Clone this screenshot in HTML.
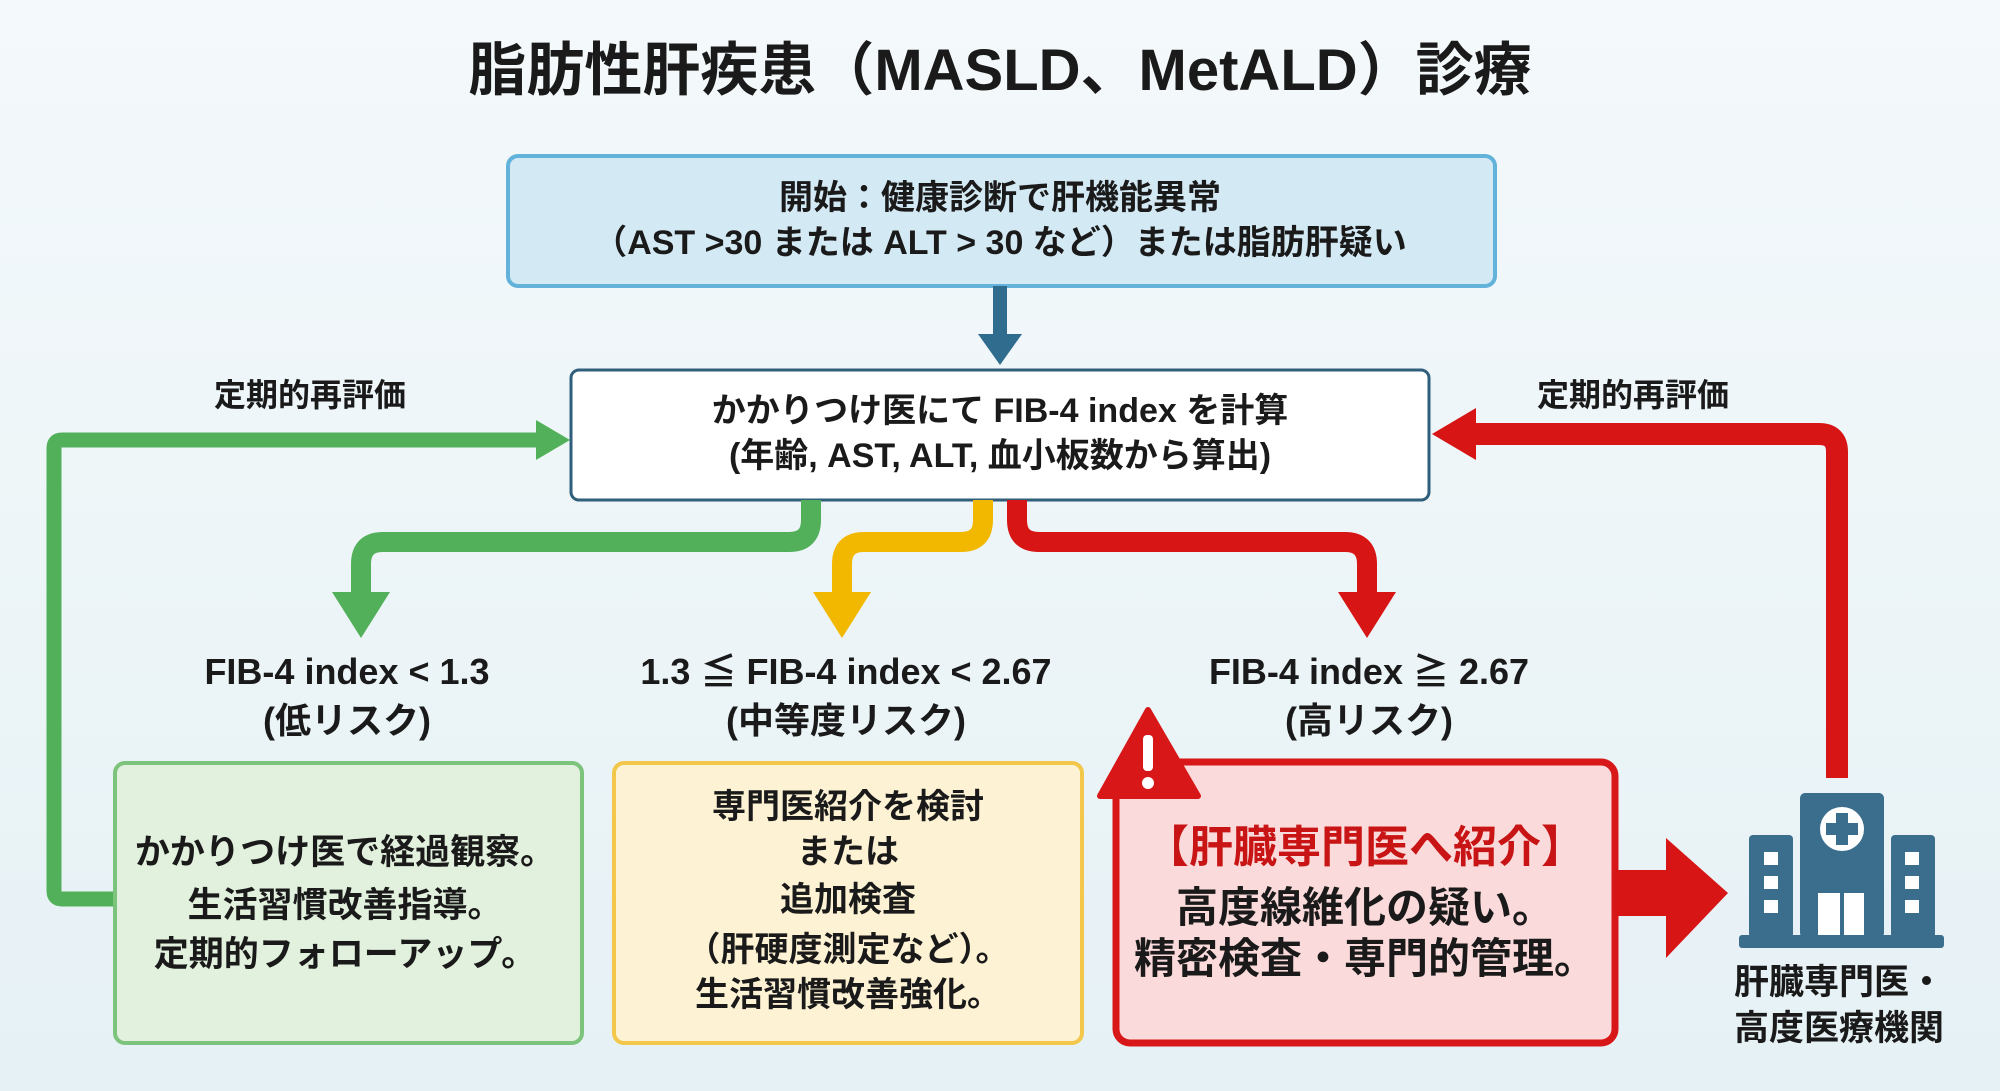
<!DOCTYPE html>
<html><head><meta charset="utf-8"><style>
html,body{margin:0;padding:0;width:2000px;height:1091px;overflow:hidden;background:#eef5f8}
svg text{font-family:"Liberation Sans","Noto Sans CJK JP",sans-serif;font-weight:bold;fill:#1a1a1a;text-anchor:middle}
</style></head><body>
<svg width="2000" height="1091" viewBox="0 0 2000 1091" xmlns="http://www.w3.org/2000/svg">
<defs><linearGradient id="bg" x1="0" y1="0" x2="0" y2="1"><stop offset="0" stop-color="#f4f9fb"/><stop offset="1" stop-color="#e6f1f5"/></linearGradient></defs>
<rect width="2000" height="1091" fill="url(#bg)"/>
<text x="1000" y="90" font-size="58">脂肪性肝疾患（MASLD、MetALD）診療</text>

<rect x="508" y="156" width="987" height="130" rx="10" fill="#d3e9f4" stroke="#62b2da" stroke-width="4"/>
<text x="1000" y="209" font-size="34">開始：健康診断で肝機能異常</text>
<text x="1000" y="254" font-size="34">（AST &gt;30 または ALT &gt; 30 など）または脂肪肝疑い</text>
<rect x="993" y="286" width="14" height="50" fill="#2f6c8e"/>
<polygon points="978,334 1022,334 1000,365" fill="#2f6c8e"/>

<rect x="571" y="370" width="858" height="130" rx="8" fill="#ffffff" stroke="#2f5f7a" stroke-width="3"/>
<text x="1000" y="422" font-size="34">かかりつけ医にて FIB-4 index を計算</text>
<text x="1000" y="467" font-size="34">(年齢, AST, ALT, 血小板数から算出)</text>

<text x="310" y="406" font-size="32">定期的再評価</text>
<text x="1633" y="406" font-size="32">定期的再評価</text>

<path d="M115,899 H62 Q54,899 54,891 V448 Q54,440 62,440 H540" fill="none" stroke="#52b05a" stroke-width="15"/>
<polygon points="536,420 570,440 536,460" fill="#52b05a"/>
<path d="M1837,778 V452 Q1837,434 1819,434 H1470" fill="none" stroke="#d81515" stroke-width="22"/>
<polygon points="1476,408 1432,434 1476,460" fill="#d81515"/>

<path d="M811,500 V520 Q811,542 789,542 H383 Q361,542 361,564 V595" fill="none" stroke="#52b05a" stroke-width="20"/>
<polygon points="332,592 390,592 361,638" fill="#52b05a"/>
<path d="M983,500 V520 Q983,542 961,542 H864 Q842,542 842,564 V595" fill="none" stroke="#f2b800" stroke-width="20"/>
<polygon points="813,592 871,592 842,638" fill="#f2b800"/>
<path d="M1017,500 V520 Q1017,542 1039,542 H1345 Q1367,542 1367,564 V595" fill="none" stroke="#d81515" stroke-width="20"/>
<polygon points="1338,592 1396,592 1367,638" fill="#d81515"/>

<text x="347" y="684" font-size="36">FIB-4 index &lt; 1.3</text>
<text x="347" y="733" font-size="36">(低リスク)</text>
<text x="846" y="684" font-size="36">1.3 ≦ FIB-4 index &lt; 2.67</text>
<text x="846" y="733" font-size="36">(中等度リスク)</text>
<text x="1369" y="684" font-size="36">FIB-4 index ≧ 2.67</text>
<text x="1369" y="733" font-size="36">(高リスク)</text>

<rect x="115" y="763" width="467" height="280" rx="10" fill="#e2f1dd" stroke="#7cc47c" stroke-width="4"/>
<text x="345" y="864" font-size="35">かかりつけ医で経過観察。</text>
<text x="345" y="917" font-size="35">生活習慣改善指導。</text>
<text x="345" y="966" font-size="35">定期的フォローアップ。</text>

<rect x="614" y="763" width="468" height="280" rx="10" fill="#fdf2d4" stroke="#f3c84a" stroke-width="4"/>
<text x="848" y="818" font-size="34">専門医紹介を検討</text>
<text x="848" y="863" font-size="34">または</text>
<text x="848" y="911" font-size="34">追加検査</text>
<text x="848" y="961" font-size="34">（肝硬度測定など）。</text>
<text x="848" y="1006" font-size="34">生活習慣改善強化。</text>

<rect x="1116" y="762" width="499" height="281" rx="14" fill="#fadada" stroke="#d81818" stroke-width="7"/>
<polygon points="1148,710 1100,796 1198,796" fill="#d81818" stroke="#d81818" stroke-width="6" stroke-linejoin="round"/>
<rect x="1143" y="735" width="10" height="36" rx="4" fill="#fff"/>
<circle cx="1148" cy="783" r="6" fill="#fff"/>
<text x="1365" y="862" font-size="44" style="fill:#c81414">【肝臓専門医へ紹介】</text>
<text x="1365" y="922" font-size="42">高度線維化の疑い。</text>
<text x="1365" y="973" font-size="42">精密検査・専門的管理。</text>

<rect x="1615" y="870" width="55" height="46" fill="#d81515"/>
<polygon points="1666,838 1728,893 1666,958" fill="#d81515"/>

<g fill="#3a6e8c">
<rect x="1800" y="793" width="84" height="145" rx="5"/>
<rect x="1749" y="835" width="44" height="103" rx="4"/>
<rect x="1891" y="835" width="44" height="103" rx="4"/>
<rect x="1739" y="935" width="205" height="13" rx="3"/>
</g>
<circle cx="1842" cy="829" r="22" fill="#fff"/>
<rect x="1836" y="813" width="12" height="32" fill="#3a6e8c"/>
<rect x="1826" y="823" width="32" height="12" fill="#3a6e8c"/>
<g fill="#fff">
<rect x="1818" y="893" width="22" height="42"/><rect x="1844" y="893" width="20" height="42"/>
<rect x="1764" y="852" width="14" height="13"/><rect x="1764" y="876" width="14" height="13"/><rect x="1764" y="900" width="14" height="13"/>
<rect x="1905" y="852" width="14" height="13"/><rect x="1905" y="876" width="14" height="13"/><rect x="1905" y="900" width="14" height="13"/>
</g>
<text x="1839" y="994" font-size="35">肝臓専門医・</text>
<text x="1839" y="1040" font-size="35">高度医療機関</text>
</svg>
</body></html>
